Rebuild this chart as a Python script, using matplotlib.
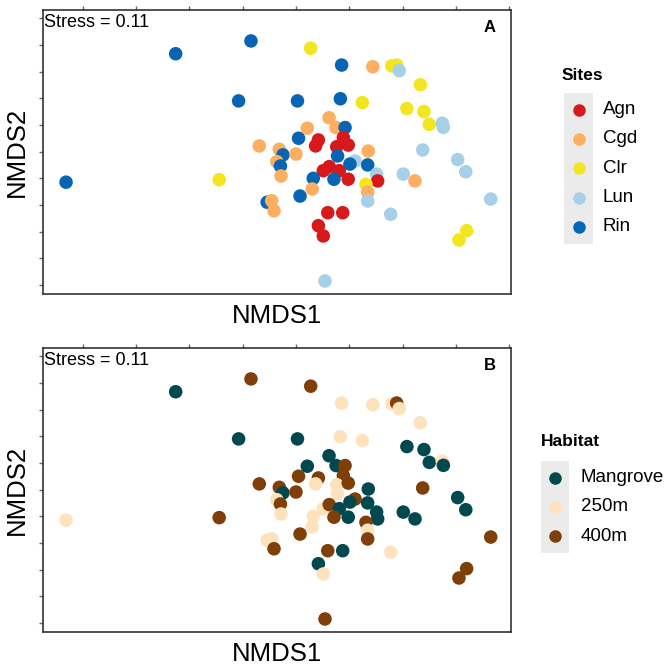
import numpy as np
import matplotlib.pyplot as plt
from matplotlib.lines import Line2D
from matplotlib.patches import Rectangle

plt.rcParams['font.family'] = ['Liberation Sans', 'DejaVu Sans']

# NMDS scores (same points in both panels)
nmds1 = [-0.564, -0.211, -0.269, 0.007, 0.012, -0.172, -0.078, -0.061, 0.000,
         0.069, 0.214, 0.360, 0.449, 0.472, 0.484, 0.583, 0.208, 0.311, 0.520,
         0.600, 0.625, 0.686, 0.691, 0.155, 0.053, 0.188, 0.230, 0.105, 0.092,
         0.222, 0.191, 0.245, 0.594, 0.339, 0.195, 0.277, 0.758, -1.078, -0.360,
         -0.090, -0.073, -0.070, -0.135, -0.114, -0.103, 0.019, 0.128, 0.156,
         0.203, 0.253, 0.336, 0.081, 0.178, 0.245, 0.378, 0.383, 0.076, 0.328,
         0.336, 0.336, 0.503, 0.558, 0.796, 0.913, 0.444, 0.149, 0.219, 0.105,
         0.128, 0.800, 0.764, 0.136]
nmds2 = [0.459, 0.519, 0.238, 0.238, 0.063, 0.027, 0.011, -0.015, -0.011,
         0.485, 0.406, 0.398, 0.402, 0.406, 0.380, 0.314, 0.248, 0.230, 0.202,
         0.188, 0.128, 0.133, 0.114, 0.159, 0.110, 0.113, 0.113, 0.055, 0.027,
         0.066, 0.023, 0.031, 0.008, 0.003, -0.020, -0.044, -0.037, -0.143, -0.131,
         -0.047, -0.067, -0.114, -0.237, -0.230, -0.277, -0.208, -0.089, -0.070,
         -0.089, -0.058, -0.062, -0.125, -0.129, -0.129, -0.105, -0.137, -0.175, -0.153,
         -0.190, -0.231, -0.105, -0.137, -0.094, -0.222, -0.293, -0.286, -0.286, -0.347,
         -0.395, -0.370, -0.414, -0.606]
sites = ['Rin', 'Rin', 'Rin', 'Rin', 'Rin', 'Cgd', 'Cgd', 'Rin', 'Cgd',
         'Clr', 'Rin', 'Cgd', 'Clr', 'Clr', 'Lun', 'Clr', 'Rin', 'Clr', 'Clr',
         'Clr', 'Clr', 'Lun', 'Lun', 'Cgd', 'Cgd', 'Cgd', 'Rin', 'Agn', 'Agn',
         'Agn', 'Agn', 'Agn', 'Lun', 'Cgd', 'Rin', 'Lun', 'Lun', 'Rin', 'Clr',
         'Cgd', 'Rin', 'Cgd', 'Rin', 'Cgd', 'Cgd', 'Rin', 'Agn', 'Agn',
         'Agn', 'Rin', 'Rin', 'Rin', 'Rin', 'Agn', 'Lun', 'Agn', 'Cgd', 'Clr',
         'Cgd', 'Lun', 'Lun', 'Cgd', 'Lun', 'Lun', 'Lun', 'Agn', 'Agn', 'Agn',
         'Agn', 'Clr', 'Clr', 'Lun']
habitat = ['Mangrove', '400m', 'Mangrove', 'Mangrove', '400m', '400m', '400m', 'Mangrove', '400m',
           '400m', '250m', '250m', '250m', '400m', '250m', '250m', '250m', '250m', 'Mangrove',
           'Mangrove', 'Mangrove', '250m', 'Mangrove', 'Mangrove', 'Mangrove', 'Mangrove', '400m', '400m', '250m',
           '400m', '250m', '400m', '400m', 'Mangrove', '250m', '400m', 'Mangrove', '250m', '400m',
           '250m', '400m', '250m', '250m', '250m', '400m', '400m', '250m', '400m',
           'Mangrove', 'Mangrove', 'Mangrove', '250m', '400m', 'Mangrove', 'Mangrove', 'Mangrove', '250m', '400m',
           '250m', '400m', 'Mangrove', 'Mangrove', 'Mangrove', '400m', '250m', '400m', 'Mangrove', 'Mangrove',
           '250m', '400m', '400m', '400m']

site_levels = ['Agn', 'Cgd', 'Clr', 'Lun', 'Rin']
site_colors = ['#D7191C', '#FDAE61', '#F2E61E', '#A6D0E8', '#0865B4']
hab_levels = ['Mangrove', '250m', '400m']
hab_colors = ['#01484F', '#FEE2BE', '#7F3F08']
stress = 0.11

fig = plt.figure(figsize=(6.71, 6.66), dpi=100)
W, H = 671, 666


def fig_box(x0, y0, x1, y1):
    return [x0 / W, 1 - y1 / H, (x1 - x0) / W, (y1 - y0) / H]


def panel(box, groups, levels, colors, letter, title, leg):
    ax = fig.add_axes(fig_box(*box))
    cmap = dict(zip(levels, colors))
    ax.scatter(nmds1, nmds2, c=[cmap[g] for g in groups], s=95, linewidths=0, zorder=3)
    ax.set_xlim(-1.186, 1.008)
    ax.set_ylim(-0.667, 0.664)
    ax.set_xticks(np.arange(-1.0, 1.01, 0.25))
    ax.set_yticks(np.arange(-0.625, 0.63, 0.125))
    ax.xaxis.tick_top()
    ax.tick_params(axis='both', direction='out', length=3, width=1, color='#666666',
                   labelleft=False, labeltop=False, labelbottom=False)
    for sp in ax.spines.values():
        sp.set_color('#333333')
        sp.set_linewidth(1.2)
    ax.text(0.002, 0.985, f'Stress = {stress}', transform=ax.transAxes, fontsize=13,
            ha='left', va='top')
    ax.text(0.955, 0.94, letter, transform=ax.transAxes, fontsize=12, fontweight='bold',
            ha='center', va='center')
    ax.set_xlabel('NMDS1', fontsize=18.5, labelpad=7)
    ax.set_ylabel('NMDS2', fontsize=18.5, labelpad=7)

    # legend, ggplot style with grey key background
    tx, ty, kx0, kx1, ky0, step, lx = leg
    fig.text(tx / W, 1 - ty / H, title, fontsize=12.5, fontweight='bold', ha='left', va='center')
    fig.patches.append(Rectangle((kx0 / W, 1 - (ky0 + step * len(levels) + 4) / H),
                                 (kx1 - kx0) / W, (step * len(levels) + 4) / H,
                                 transform=fig.transFigure, facecolor='#EBEBEB',
                                 edgecolor='none', zorder=0))
    for i, (lab, col) in enumerate(zip(levels, colors)):
        yc = 1 - (ky0 + step * (i + 0.5) + 2) / H
        fig.add_artist(Line2D([(kx0 + kx1) / 2 / W], [yc], marker='o', markersize=8,
                              color=col, linestyle='none', transform=fig.transFigure))
        fig.text(lx / W, yc, lab, fontsize=13.5, ha='left', va='center')
    return ax


panel((43, 10, 511, 294), sites, site_levels, site_colors, 'A', 'Sites',
      (562, 75, 564, 593, 93, 29.3, 603))
panel((43, 348, 511, 632), habitat, hab_levels, hab_colors, 'B', 'Habitat',
      (541, 442, 541, 569, 461, 29.3, 581))

fig.savefig('out.png', dpi=100)
